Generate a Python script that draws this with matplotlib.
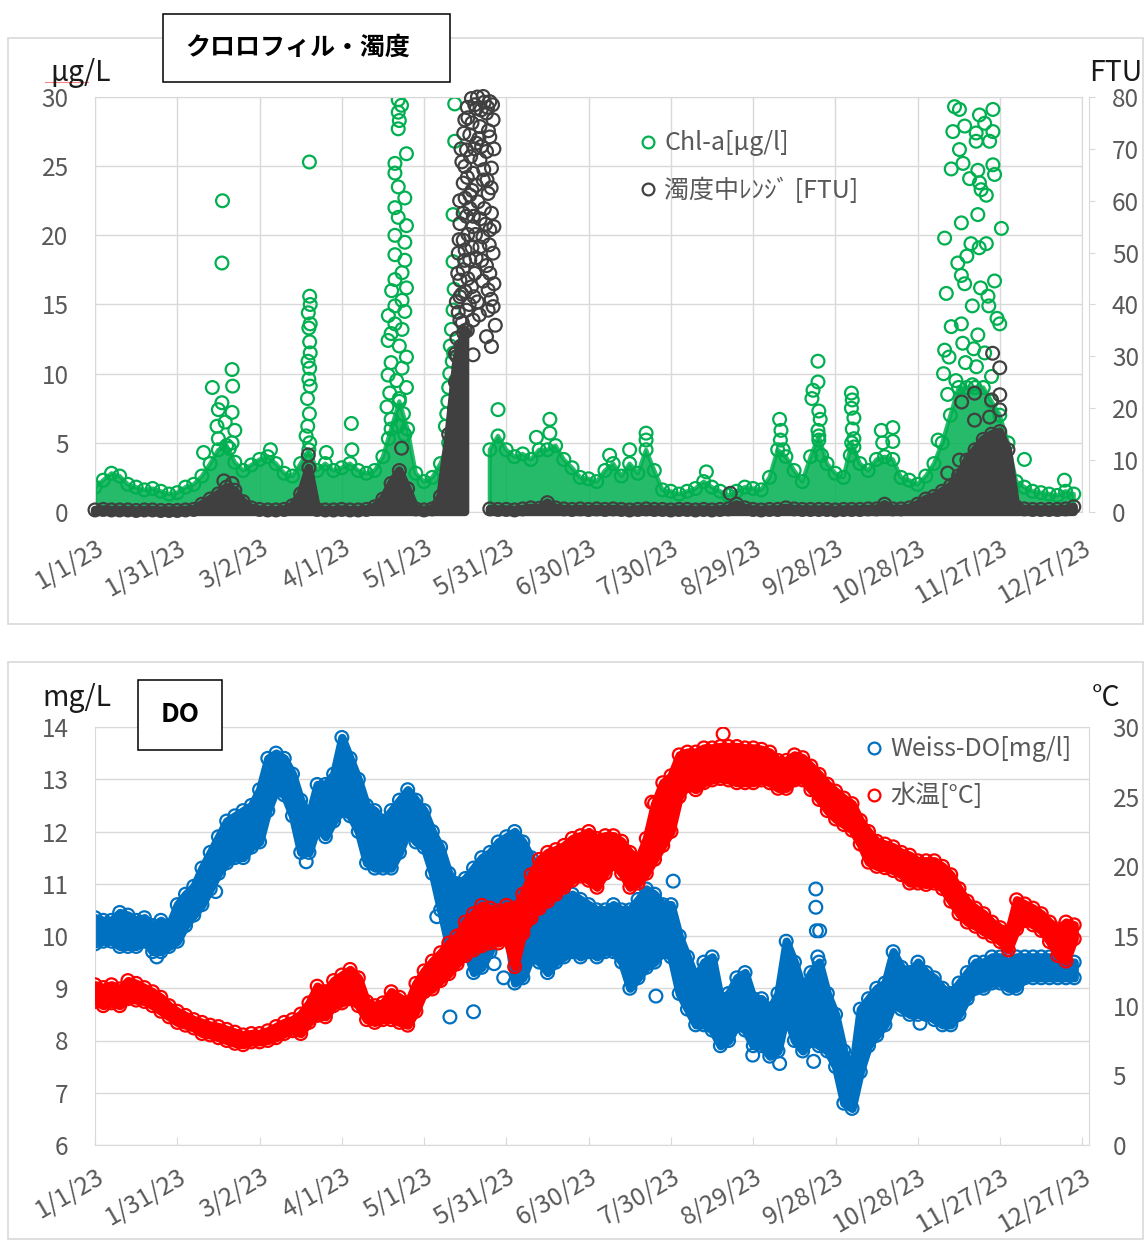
import numpy as np
import matplotlib.pyplot as plt
from matplotlib.patches import Rectangle
from matplotlib.lines import Line2D

plt.rcParams['font.family'] = ['Noto Sans CJK JP', 'DejaVu Sans']

W, H = 1145, 1240
GRID = '#d9d9d9'
TXT = '#595959'
GREEN = '#00b050'
DARK = '#404040'
BLUE = '#0070c0'
RED = '#ff0000'

# one sample every 3 days, day 0 = 1/1/23
days = np.arange(0, 360, 3)

date_labels = ['1/1/23', '1/31/23', '3/2/23', '4/1/23', '5/1/23', '5/31/23', '6/30/23',
               '7/30/23', '8/29/23', '9/28/23', '10/28/23', '11/27/23', '12/27/23']

# Chl-a [ug/l], upper edge of the dense band
chl_hi = [1.8, 2.3, 2.8, 2.6, 2.0, 1.8, 1.6, 1.7, 1.5, 1.3,
          1.4, 1.8, 2.0, 2.6, 3.5, 4.5, 4.8, 3.6, 3.0, 3.4,
          3.8, 4.0, 3.5, 2.8, 2.6, 3.5, 4.5, 3.0, 3.5, 3.0,
          3.2, 3.5, 3.0, 2.8, 3.0, 4.0, 6.0, 8.0, 6.0, 2.8,
          2.2, 2.5, 3.5, 5.0, 6.0, np.nan, np.nan, np.nan, 4.5, 5.5,
          4.5, 4.0, 4.2, 3.8, 4.5, 4.5, 4.8, 3.8, 3.2, 2.5,
          2.4, 2.2, 3.0, 3.5, 2.6, 3.5, 2.8, 4.5, 3.0, 1.6,
          1.5, 1.3, 1.5, 1.7, 2.2, 1.8, 1.5, 1.2, 1.5, 1.8,
          1.7, 1.6, 2.5, 4.5, 4.0, 3.0, 2.2, 4.0, 5.5, 3.5,
          2.8, 2.5, 5.0, 3.5, 3.0, 3.8, 4.0, 3.8, 2.5, 2.3,
          2.0, 2.6, 3.5, 5.0, 7.0, 9.0, 9.0, 9.0, 9.0, 8.0,
          7.0, 5.0, 2.2, 1.8, 1.5, 1.4, 1.3, 1.2, 1.5, 1.3]

# Chl-a readings standing above the band (day, value)
chl_peaks = [
    (39.6, 4.3), (42.8, 9.0), (44.5, 6.2), (45.0, 7.4), (45.0, 5.3), (46.3, 7.9),
    (46.3, 18.0), (46.5, 22.5), (47.5, 6.5), (49.0, 4.6), (50.0, 10.3), (50.2, 9.1),
    (50.0, 7.2), (51.0, 5.9), (50.0, 5.0), (64.0, 4.5),
    (78.2, 25.3), (78.3, 15.6), (78.5, 15.0), (77.8, 14.4), (78.5, 13.6), (78.0, 13.3),
    (78.3, 12.3), (78.5, 11.5), (77.7, 10.9), (78.3, 10.4), (78.0, 9.6), (78.5, 9.1),
    (77.5, 8.2), (78.2, 7.1), (77.6, 6.2), (78.3, 5.0), (77.0, 5.5),
    (84.4, 4.3), (93.5, 6.4), (93.7, 4.5),
    (110.6, 29.8), (111.8, 29.4), (110.6, 28.9), (111.0, 28.3), (110.6, 27.7),
    (113.6, 25.9), (109.4, 25.2), (109.4, 24.5), (110.6, 23.5), (113.0, 22.7),
    (109.4, 22.0), (110.6, 21.3), (113.6, 20.7), (109.4, 20.0), (113.0, 19.5),
    (109.4, 18.6), (113.0, 18.2), (112.0, 17.3), (109.4, 16.8), (113.6, 16.2),
    (108.2, 16.0), (112.0, 15.3), (109.4, 14.9), (113.0, 14.5), (107.0, 14.2),
    (109.4, 13.6), (112.0, 13.2), (108.0, 12.9), (106.9, 12.4), (111.0, 12.0),
    (113.6, 11.2), (108.0, 10.8), (112.0, 10.4), (106.9, 9.9), (110.0, 9.5),
    (113.6, 9.0), (107.5, 8.6), (111.0, 8.2), (106.5, 7.6), (112.5, 7.1),
    (108.0, 6.7), (110.5, 6.2), (113.0, 5.6), (107.0, 5.3),
    (131.2, 29.5), (131.2, 26.8), (130.6, 21.5), (130.6, 18.1), (131.0, 16.1),
    (130.6, 14.6), (130.0, 13.2), (129.6, 12.0), (130.3, 10.9), (129.4, 10.0),
    (129.0, 9.0), (128.7, 8.0), (128.3, 7.1), (127.8, 6.2), (130.8, 11.5), (131.5, 9.5),
    (147.0, 7.4), (161.0, 5.4), (165.9, 6.7), (165.9, 5.7), (187.7, 4.1), (195.0, 4.5),
    (201.0, 5.7), (201.0, 5.2), (223.0, 2.9),
    (249.7, 6.7), (250.2, 5.9), (250.0, 5.2), (251.0, 4.5), (263.7, 10.9), (263.7, 9.4),
    (261.9, 8.8), (261.5, 8.2), (264.0, 7.3), (264.5, 6.7), (263.7, 5.9), (264.0, 5.2),
    (265.0, 4.1), (275.9, 8.6), (276.2, 8.1), (275.9, 7.5), (276.8, 6.8), (276.2, 6.0),
    (276.8, 5.3), (276.8, 4.7), (275.5, 4.1), (286.8, 5.9), (291.0, 6.1), (291.0, 5.1),
    (287.3, 5.0),
    (313.5, 29.3), (315.3, 29.1), (327.5, 29.1), (322.6, 28.7), (317.2, 27.9),
    (324.5, 28.1), (321.4, 27.4), (327.5, 27.5), (312.9, 27.5), (321.4, 26.8),
    (326.3, 26.8), (315.3, 26.2), (312.3, 24.8), (316.6, 25.2), (322.0, 24.7),
    (327.5, 25.1), (328.1, 24.4), (319.0, 24.1), (322.6, 23.8), (323.2, 23.3),
    (325.1, 22.9), (322.0, 21.5), (316.0, 20.9), (309.9, 19.8), (330.6, 20.5),
    (325.1, 19.4), (319.5, 19.4), (322.5, 19.1), (318.0, 18.5), (314.7, 18.0),
    (328.1, 16.7), (310.5, 15.8), (317.2, 16.5), (325.7, 15.6), (323.0, 16.2),
    (316.0, 17.1), (320.0, 14.9), (326.0, 14.9), (330.0, 13.6), (316.0, 13.6),
    (312.3, 13.4), (329.0, 14.0), (322.0, 12.8), (309.9, 11.7), (316.5, 12.2),
    (320.5, 11.8), (324.5, 11.5), (311.5, 11.2), (317.5, 10.8), (321.5, 10.5),
    (309.5, 10.0), (314.0, 9.5), (327.0, 9.8), (320.0, 9.2), (311.0, 8.5),
    (307.5, 5.2), (339.0, 3.8), (353.6, 2.3)]

# turbidity [FTU], upper edge of the dense band
turb_hi = [0.4, 0.5, 0.4, 0.4, 0.4, 0.3, 0.4, 0.4, 0.3, 0.3,
           0.3, 0.4, 0.5, 1.5, 2.5, 3.5, 4.8, 4.2, 2.0, 0.8,
           0.5, 0.4, 0.4, 0.5, 1.2, 3.5, 8.5, 0.5, 0.4, 0.4,
           0.5, 0.4, 0.4, 0.5, 1.0, 2.5, 5.5, 8.0, 4.5, 0.6,
           0.4, 0.6, 3.0, 15.0, 30.0, 35.0, np.nan, np.nan, 0.6, 0.5,
           0.5, 0.4, 0.6, 0.8, 0.7, 1.8, 0.8, 0.6, 0.5, 0.6,
           0.5, 0.6, 0.5, 0.6, 0.5, 0.4, 0.5, 0.6, 0.5, 0.5,
           0.4, 0.5, 0.5, 0.4, 0.5, 0.4, 0.5, 0.6, 1.5, 0.8,
           0.5, 0.4, 0.5, 0.5, 0.8, 0.6, 0.5, 0.5, 0.5, 0.5,
           0.4, 0.5, 0.5, 0.5, 0.6, 0.6, 1.5, 0.6, 0.6, 0.8,
           1.5, 2.5, 3.0, 4.0, 5.0, 7.0, 10.0, 12.0, 14.0, 15.0,
           15.5, 12.0, 1.0, 0.6, 0.5, 0.5, 0.5, 0.5, 0.6, 1.0]

# scattered turbidity readings (day, value)
turb_peaks = [
    (137.3, 79.7), (141.6, 80.1), (144.0, 79.1), (139.1, 77.8), (142.8, 76.9),
    (134.9, 75.6), (145.2, 75.6), (140.4, 74.3), (136.7, 72.7), (144.0, 72.3),
    (139.1, 71.1), (135.5, 69.8), (142.8, 69.5), (140.4, 67.9), (134.9, 66.6),
    (144.6, 66.3), (137.9, 65.3), (141.6, 64.0), (134.3, 63.4), (136.7, 61.1),
    (143.4, 61.4), (139.7, 59.8), (134.3, 57.6), (144.6, 57.6), (133.1, 55.6),
    (137.9, 55.0), (144.0, 54.4), (134.3, 52.4), (140.4, 51.1), (132.5, 49.9),
    (145.2, 49.9), (136.7, 48.6), (134.3, 46.7), (144.0, 46.0), (133.1, 44.7),
    (137.3, 43.4), (143.4, 42.8), (133.1, 41.5), (145.2, 39.6), (135.5, 38.9),
    (133.1, 37.0), (137.9, 37.0), (143.4, 38.9), (142.8, 33.8), (144.6, 31.9),
    (137.9, 30.3), (138.5, 78.5), (135.8, 78.0), (143.5, 73.5), (137.0, 68.5),
    (141.0, 70.5), (139.0, 63.0), (135.0, 60.5), (142.0, 58.5), (138.0, 57.0),
    (136.0, 53.5), (141.5, 53.0), (135.0, 50.5), (138.5, 46.0), (141.5, 44.5),
    (135.0, 42.5), (139.5, 40.5), (134.5, 34.5), (133.5, 32.0), (132.8, 28.0),
    (133.5, 70.0), (134.5, 73.0), (136.0, 76.0), (137.5, 75.0), (139.5, 80.0),
    (140.8, 77.5), (142.0, 79.0), (143.2, 78.0), (145.0, 78.5), (133.8, 67.5),
    (135.8, 64.5), (137.5, 62.0), (138.5, 70.0), (140.0, 72.0), (141.8, 66.0),
    (143.0, 64.0), (145.5, 70.0), (144.5, 62.5), (133.0, 60.0), (135.5, 57.0),
    (136.8, 58.5), (138.8, 53.5), (140.5, 56.5), (142.5, 55.5), (143.8, 51.5),
    (145.5, 55.0), (132.8, 52.5), (134.8, 48.5), (136.0, 45.0), (137.5, 51.0),
    (139.0, 49.0), (141.0, 48.5), (142.8, 47.5), (145.5, 44.0), (132.3, 46.0),
    (133.8, 42.0), (136.5, 40.0), (138.2, 41.5), (140.2, 38.0), (144.5, 41.0),
    (146.0, 36.0), (131.8, 40.5), (132.5, 38.5), (134.0, 36.5), (135.8, 35.0),
    (132.0, 33.5), (131.5, 30.5), (133.0, 26.0), (132.0, 23.5), (131.2, 20.0),
    (132.2, 17.0), (130.5, 14.0), (131.5, 25.0),
    (47.0, 6.0), (50.0, 5.5), (77.8, 11.0), (111.8, 12.3), (231.7, 3.6),
    (327.4, 30.6), (330.0, 27.8), (320.8, 22.9), (316.1, 21.2), (330.0, 22.6),
    (327.0, 21.6), (330.0, 19.7), (320.8, 17.7), (326.3, 18.3), (315.3, 10.0),
    (311.0, 7.5)]

# Weiss-DO [mg/l], daily spread
do_lo = [9.85, 9.9, 9.9, 9.8, 9.8, 9.8, 9.9, 9.7, 9.7, 9.8,
         9.9, 10.2, 10.4, 10.6, 10.9, 11.2, 11.4, 11.5, 11.5, 11.7,
         11.8, 12.4, 12.8, 12.7, 12.3, 11.6, 11.6, 12.1, 11.9, 12.2,
         12.4, 12.3, 12.0, 11.4, 11.3, 11.3, 11.3, 11.6, 12.0, 11.8,
         11.7, 11.2, 10.5, 9.8, 9.9, 9.8, 9.3, 9.4, 9.7, 10.2,
         10.2, 9.1, 9.2, 9.6, 9.5, 9.3, 9.5, 9.6, 9.7, 9.6,
         9.7, 9.6, 9.7, 9.7, 9.5, 9.0, 9.2, 9.4, 9.5, 9.7,
         9.6, 8.9, 8.6, 8.3, 8.3, 8.2, 7.9, 8.0, 8.3, 8.2,
         7.9, 7.9, 7.7, 7.8, 8.5, 8.0, 7.8, 8.0, 7.9, 7.8,
         7.5, 6.8, 6.7, 7.4, 7.9, 8.1, 8.3, 8.7, 8.6, 8.5,
         8.5, 8.5, 8.4, 8.3, 8.3, 8.5, 8.8, 9.0, 9.0, 9.1,
         9.1, 9.0, 9.0, 9.2, 9.2, 9.2, 9.2, 9.2, 9.2, 9.2]
do_hi = [10.35, 10.3, 10.3, 10.45, 10.4, 10.3, 10.35, 10.2, 10.3, 10.2,
         10.6, 10.8, 10.95, 11.3, 11.6, 11.9, 12.2, 12.3, 12.4, 12.5,
         12.8, 13.4, 13.5, 13.4, 13.1, 12.6, 12.3, 12.9, 12.9, 13.1,
         13.8, 13.4, 13.0, 12.5, 12.4, 12.2, 12.4, 12.6, 12.8, 12.6,
         12.4, 12.0, 11.7, 11.2, 11.0, 11.1, 11.3, 11.5, 11.6, 11.8,
         11.9, 12.0, 11.8, 11.5, 11.0, 10.9, 10.8, 10.7, 10.8, 10.7,
         10.6, 10.5, 10.5, 10.6, 10.5, 10.5, 10.7, 10.9, 10.8, 10.6,
         10.6, 10.0, 9.6, 9.2, 9.5, 9.6, 8.8, 8.9, 9.2, 9.3,
         8.8, 8.8, 8.6, 8.9, 9.9, 9.5, 9.0, 9.3, 9.5, 8.9,
         8.5, 7.8, 7.4, 8.6, 8.8, 9.0, 9.1, 9.7, 9.4, 9.3,
         9.5, 9.3, 9.2, 9.0, 8.9, 9.1, 9.3, 9.5, 9.5, 9.6,
         9.6, 9.5, 9.6, 9.6, 9.6, 9.6, 9.6, 9.6, 9.5, 9.5]
do_out = [(22.5, 9.6), (44.0, 10.85), (77.0, 11.42), (124.6, 10.37), (129.4, 8.45),
          (138.0, 8.55), (145.5, 9.47), (149.0, 9.2), (204.5, 8.85), (210.8, 11.05),
          (239.8, 7.72), (249.6, 7.56), (262.0, 7.6), (262.8, 10.9), (262.8, 10.55),
          (263.0, 10.1), (264.2, 10.1), (263.5, 9.6), (300.8, 8.33)]

# water temperature [degC], daily spread
temp_lo = [10.3, 10.0, 10.2, 10.0, 10.5, 10.4, 10.3, 10.0, 9.6, 9.2,
           8.8, 8.6, 8.4, 8.0, 7.9, 7.7, 7.5, 7.3, 7.2, 7.4,
           7.4, 7.5, 7.7, 8.0, 8.2, 8.0, 8.8, 9.3, 9.2, 10.0,
           10.2, 10.5, 10.0, 9.0, 8.8, 9.0, 9.0, 8.8, 8.6, 9.6,
           11.0, 11.2, 11.8, 12.3, 13.0, 13.6, 14.0, 14.3, 14.5, 14.5,
           14.8, 12.8, 15.2, 16.3, 17.0, 17.5, 18.0, 18.5, 19.0, 19.3,
           19.0, 18.5, 19.5, 20.2, 19.5, 18.5, 18.8, 19.5, 20.5, 21.5,
           22.5, 25.0, 25.8, 25.5, 26.0, 26.2, 26.3, 26.2, 26.0, 26.0,
           26.0, 26.2, 26.0, 25.6, 25.6, 26.2, 26.2, 25.5, 24.8, 24.0,
           23.4, 23.0, 22.6, 21.6, 20.3, 20.0, 19.9, 19.7, 19.4, 18.8,
           18.8, 18.7, 18.8, 18.4, 17.5, 16.6, 16.0, 15.7, 15.3, 15.0,
           14.6, 14.0, 15.5, 16.1, 15.8, 15.4, 14.6, 13.6, 13.2, 14.8]
temp_hi = [11.5, 11.3, 11.5, 11.2, 11.8, 11.6, 11.3, 11.0, 10.6, 10.0,
           9.6, 9.3, 9.0, 8.8, 8.6, 8.5, 8.3, 8.1, 7.9, 8.0,
           8.0, 8.2, 8.5, 8.8, 9.0, 9.4, 10.2, 11.4, 11.0, 11.8,
           12.2, 12.6, 12.0, 10.3, 10.0, 10.2, 11.0, 10.6, 10.2, 11.6,
           12.5, 13.2, 13.8, 14.5, 15.0, 16.0, 16.6, 17.2, 17.0, 16.8,
           17.2, 17.0, 18.0, 19.4, 20.5, 21.0, 21.2, 21.5, 22.0, 22.2,
           22.5, 22.0, 22.2, 22.2, 21.8, 21.0, 20.5, 22.0, 24.5, 26.0,
           26.5, 28.0, 28.2, 28.2, 28.5, 28.5, 28.6, 28.6, 28.6, 28.5,
           28.5, 28.4, 28.2, 27.6, 27.6, 28.0, 27.8, 27.2, 26.6, 25.9,
           25.4, 24.9, 24.5, 23.3, 22.5, 21.8, 21.6, 21.4, 21.0, 20.8,
           20.4, 20.4, 20.4, 20.0, 19.4, 18.4, 17.5, 17.0, 16.6, 16.0,
           15.6, 15.3, 17.6, 17.3, 17.0, 16.6, 16.0, 15.5, 16.0, 15.8]
temp_out = [(229.0, 29.5), (203.0, 24.6)]


def fx(px):
    return px / W


def fy(py):
    return 1 - py / H


mk = dict(s=85, facecolors='none', linewidths=1.6)
TICK_FS = 17.5
UNIT_FS = 20.5

fig = plt.figure(figsize=(W / 100, H / 100), dpi=100)

# light frames round the two panels
for top, bot in [(38, 624), (662, 1239)]:
    fig.add_artist(Rectangle((fx(8), fy(bot)), fx(1143) - fx(8), (bot - top) / H,
                             transform=fig.transFigure, fill=False, ec=GRID, lw=1.2))


def date_axis(ax, pad):
    ax.set_xticks(np.arange(0, 361, 30))
    ax.set_xticklabels(date_labels, rotation=30, ha='right', va='top',
                       rotation_mode='anchor', color=TXT, fontsize=18)
    ax.tick_params(axis='x', pad=pad)


# ---- chlorophyll / turbidity ----
ax1 = fig.add_axes([fx(95), fy(512), fx(1082) - fx(95), 415 / H])
ax1.set_xlim(0, 360)
ax1.set_ylim(0, 30)
ax1.set_yticks(range(0, 31, 5))
ax1.grid(True, color=GRID, lw=1.0)
ax1.set_axisbelow(True)
for sp in ax1.spines.values():
    sp.set_color(GRID)
ax1.tick_params(length=0, labelcolor=TXT, labelsize=TICK_FS)
ax1.tick_params(axis='y', pad=19)
date_axis(ax1, 16)

chl = np.array(chl_hi)
ax1.fill_between(days, chl, color=GREEN, lw=3, alpha=0.85)
ax1.scatter(days, chl, edgecolors=GREEN, **mk)
pk = np.array(chl_peaks)
ax1.scatter(pk[:, 0], pk[:, 1], edgecolors=GREEN, **mk)

ax1b = ax1.twinx()
ax1b.set_ylim(0, 80)
ax1b.set_yticks(range(0, 81, 10))
for side in ['left', 'top', 'bottom']:
    ax1b.spines[side].set_visible(False)
ax1b.spines['right'].set_color(GRID)
ax1b.spines['right'].set_position(('outward', 5))
ax1b.tick_params(axis='y', direction='out', length=4.5, color=GRID,
                 labelcolor=TXT, labelsize=TICK_FS, pad=12)

turb = np.array(turb_hi)
ax1b.fill_between(days, turb, color=DARK, lw=6, clip_on=False)
ax1b.scatter(days, turb, edgecolors=DARK, clip_on=False, **mk)
tp = np.array(turb_peaks)
ax1b.scatter(tp[:, 0], tp[:, 1], edgecolors=DARK, clip_on=False, **mk)

leg_kw = dict(loc='upper left', frameon=False, fontsize=18, labelcolor=TXT,
              handlelength=1.0, handletextpad=0.15, labelspacing=0.83,
              borderpad=0, borderaxespad=0)


def ring(c):
    return Line2D([], [], ls='none', marker='o', ms=8.5, mfc='none', mec=c, mew=1.6)


fig.legend([ring(GREEN), ring(DARK)], ['Chl-a[μg/l]', '濁度中ﾚﾝｼﾞ [FTU]'],
           bbox_to_anchor=(fx(635.5), fy(130.5)), **leg_kw)

fig.text(fx(50), fy(81), 'μg/L', fontsize=UNIT_FS, color='#1a1a1a', va='baseline')
fig.add_artist(Line2D([fx(45), fx(88)], [fy(82), fy(82)], color='#ff8080', lw=0.8,
                      transform=fig.transFigure))
fig.text(fx(1089), fy(81), 'FTU', fontsize=UNIT_FS, color='#1a1a1a', va='baseline')

fig.add_artist(Rectangle((fx(163), fy(82)), fx(450) - fx(163), 68 / H,
                         transform=fig.transFigure, fc='white', ec='black', lw=1.1))
fig.text(fx(185), fy(48), 'クロロフィル・濁度', fontsize=18, fontweight='bold',
         va='center', ha='left', color='black')

# ---- dissolved oxygen / water temperature ----
ax2 = fig.add_axes([fx(95), fy(1145), fx(1089) - fx(95), 418 / H])
ax2.set_xlim(0, 362.4)
ax2.set_ylim(6, 14)
ax2.set_yticks(range(6, 15))
ax2.yaxis.grid(True, color=GRID, lw=1.0)
ax2.set_axisbelow(True)
for sp in ax2.spines.values():
    sp.set_color(GRID)
ax2.tick_params(axis='y', length=0, labelcolor=TXT, labelsize=TICK_FS, pad=19)
ax2.tick_params(axis='x', direction='in', length=6, color=GRID, labelcolor=TXT)
date_axis(ax2, 13)

lo, hi = np.array(do_lo), np.array(do_hi)
ax2.fill_between(days, lo, hi, color=BLUE, lw=6)
ax2.scatter(days, hi, edgecolors=BLUE, **mk)
ax2.scatter(days, lo, edgecolors=BLUE, **mk)
dd = np.array(do_out)
ax2.scatter(dd[:, 0], dd[:, 1], edgecolors=BLUE, **mk)

ax2b = ax2.twinx()
ax2b.set_ylim(0, 30)
ax2b.set_yticks(range(0, 31, 5))
for sp in ax2b.spines.values():
    sp.set_visible(False)
ax2b.tick_params(axis='y', length=0, labelcolor=TXT, labelsize=TICK_FS, pad=17)

tlo, thi = np.array(temp_lo), np.array(temp_hi)
ax2b.fill_between(days, tlo, thi, color=RED, lw=6)
ax2b.scatter(days, thi, edgecolors=RED, **mk)
ax2b.scatter(days, tlo, edgecolors=RED, **mk)
to = np.array(temp_out)
ax2b.scatter(to[:, 0], to[:, 1], edgecolors=RED, **mk)

fig.legend([ring(BLUE), ring(RED)], ['Weiss-DO[mg/l]', '水温[°C]'],
           bbox_to_anchor=(fx(861.5), fy(736.5)), **leg_kw)

fig.text(fx(42), fy(706), 'mg/L', fontsize=UNIT_FS, color='#1a1a1a', va='baseline')
fig.text(fx(1092), fy(706), '°C', fontsize=UNIT_FS, color='#1a1a1a', va='baseline')

fig.add_artist(Rectangle((fx(138), fy(750)), fx(222) - fx(138), 70 / H,
                         transform=fig.transFigure, fc='white', ec='black', lw=1.1))
fig.text(fx(180), fy(715), 'DO', fontsize=19, fontweight='bold',
         va='center', ha='center', color='black')

fig.savefig('out.png', dpi=100)
